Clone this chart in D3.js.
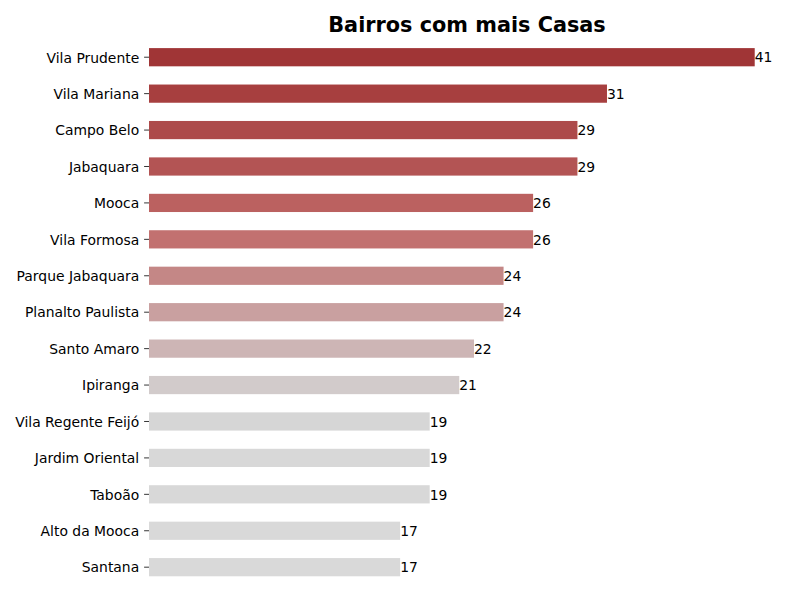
<!DOCTYPE html>
<html>
<head>
<meta charset="utf-8">
<script src="https://cdn.jsdelivr.net/npm/d3@7"></script>
<style>
  body { margin: 0; background: #fff; }
  text { font-family: "DejaVu Sans", sans-serif; }
</style>
</head>
<body>
<div id="wrapper"></div>
<script>
const bairros = ["Vila Prudente", "Vila Mariana", "Campo Belo", "Jabaquara", "Mooca",
  "Vila Formosa", "Parque Jabaquara", "Planalto Paulista", "Santo Amaro", "Ipiranga",
  "Vila Regente Feijó", "Jardim Oriental", "Taboão", "Alto da Mooca", "Santana"]
const casas = [41, 31, 29, 29, 26, 26, 24, 24, 22, 21, 19, 19, 19, 17, 17]
const barColors = ["#a03536", "#a73f3f", "#ad4a4a", "#b35454", "#bb6160",
  "#c27170", "#c48786", "#c9a0a0", "#cdb5b5", "#d2cbcb",
  "#d6d6d6", "#d8d8d8", "#d8d8d8", "#d9d9d9", "#d9d9d9"]

let dimensions = {
  width: 800,
  height: 600,
  margin: {
    top: 39,
    right: 15,
    bottom: 15,
    left: 149,
  },
}
dimensions.boundedWidth = dimensions.width
  - dimensions.margin.left
  - dimensions.margin.right
dimensions.boundedHeight = dimensions.height
  - dimensions.margin.top
  - dimensions.margin.bottom

const wrapper = d3.select("#wrapper")
  .append("svg")
    .attr("width", dimensions.width)
    .attr("height", dimensions.height)

const bounds = wrapper.append("g")
  .attr("transform", `translate(${dimensions.margin.left},${dimensions.margin.top})`)

const xScale = d3.scaleLinear()
  .domain([0, d3.max(casas) * 1.05])
  .range([0, dimensions.boundedWidth])

const yScale = d3.scaleBand()
  .domain(bairros)
  .range([0, 546.4])
  .paddingInner(0.5)
  .paddingOuter(0.25)

const data = bairros.map((b, i) => ({ bairro: b, casas: casas[i], color: barColors[i] }))

bounds.selectAll("rect")
  .data(data)
  .join("rect")
    .attr("x", 0)
    .attr("y", d => yScale(d.bairro))
    .attr("width", d => xScale(d.casas))
    .attr("height", yScale.bandwidth())
    .attr("fill", d => d.color)

bounds.selectAll(".value")
  .data(data)
  .join("text")
    .attr("class", "value")
    .attr("x", d => xScale(d.casas))
    .attr("y", d => yScale(d.bairro) + yScale.bandwidth() / 2)
    .attr("dy", "0.38em")
    .style("font-size", "13.9px")
    .attr("fill", "#000")
    .text(d => d.casas)

const yAxis = bounds.append("g")
  .call(d3.axisLeft(yScale).tickSize(4.9).tickPadding(4.9))
yAxis.select(".domain").remove()
yAxis.selectAll("text")
  .style("font-size", "13.9px")
  .attr("fill", "#000")
  .attr("dy", "0.38em")
  .attr("font-family", "DejaVu Sans, sans-serif")
yAxis.selectAll("line").attr("stroke", "#000").attr("stroke-width", 0.8)

wrapper.append("text")
  .attr("x", dimensions.margin.left + dimensions.boundedWidth / 2)
  .attr("y", 32)
  .attr("text-anchor", "middle")
  .style("font-size", "20.8px")
  .style("font-weight", "bold")
  .text("Bairros com mais Casas")
</script>
</body>
</html>
